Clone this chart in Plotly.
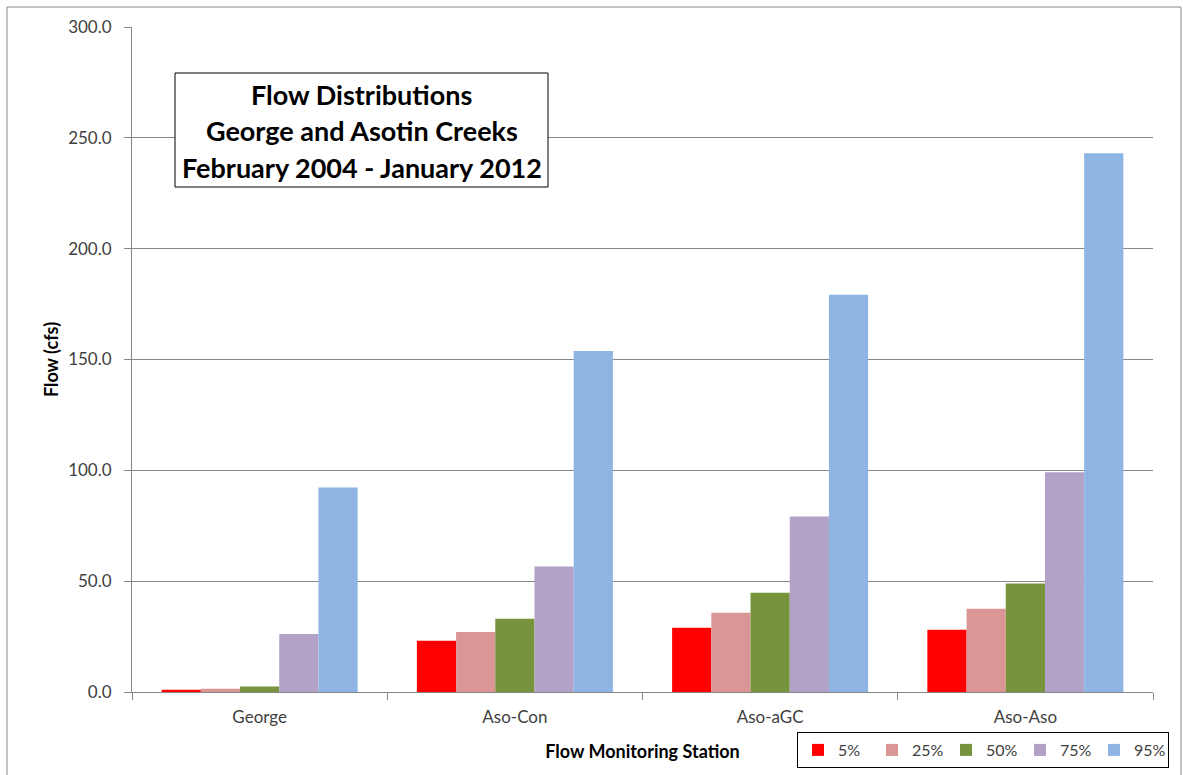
import plotly.graph_objects as go

stations = ["George", "Aso-Con", "Aso-aGC", "Aso-Aso"]
percentiles = ["5%", "25%", "50%", "75%", "95%"]
flow_5 = [1.0, 23.1, 29.0, 28.1]
flow_25 = [1.5, 27.1, 35.7, 37.6]
flow_50 = [2.5, 33.0, 44.8, 48.9]
flow_75 = [26.2, 56.6, 79.2, 99.1]
flow_95 = [92.3, 153.8, 179.2, 243.0]
y_ticks = [0, 50, 100, 150, 200, 250, 300]
title_lines = ["Flow Distributions", "George and Asotin Creeks",
               "February 2004 - January 2012"]

series = [flow_5, flow_25, flow_50, flow_75, flow_95]
colors = ["#FF0000", "#D99694", "#77933C", "#B3A2C7", "#8EB4E3"]

W, H = 1183, 775
L, R, T, B = 132, 30, 27, 83
pw, ph = W - L - R, H - T - B


def px(x):
    return (x - L) / pw


def py(y):
    return (H - B - y) / ph


fig = go.Figure()
for name, vals, col in zip(percentiles, series, colors):
    fig.add_trace(go.Bar(x=stations, y=vals, name=name, marker_color=col,
                         marker_line_width=0))

font = "Lato, 'Open Sans', sans-serif"

# title block: framed box with three centred lines
annotations = []
for i, line in enumerate(title_lines):
    annotations.append(dict(
        xref="paper", yref="paper", x=px(361.5), y=py(94 + 36.5 * i),
        xanchor="center", yanchor="middle", showarrow=False,
        text=f"<b>{line}</b>",
        font=dict(size=27, color="black", family=font)))

fig.update_layout(
    width=W, height=H,
    margin=dict(l=L, r=R, t=T, b=B, autoexpand=False),
    paper_bgcolor="white", plot_bgcolor="white",
    barmode="group", bargap=0.232, bargroupgap=0,
    font=dict(family=font, size=15, color="#404040"),
    showlegend=True,
    legend=dict(orientation="h", x=px(797), y=py(732), xanchor="left", yanchor="top",
                bordercolor="black", borderwidth=1, bgcolor="white",
                font=dict(size=16, color="#404040"),
                entrywidth=29, entrywidthmode="pixels",
                itemsizing="constant"),
    xaxis=dict(showline=True, linecolor="#868686", linewidth=1,
               ticks="outside", ticklen=7, tickcolor="#868686",
               tickson="boundaries", showgrid=False,
               ticklabelstandoff=10,
               tickfont=dict(size=17, color="#404040"),
               title=dict(text="<b>Flow Monitoring Station</b>", standoff=18,
                          font=dict(size=18, color="black"))),
    yaxis=dict(range=[0, 300], tickvals=y_ticks,
               ticktext=[f"{v:.1f}" for v in y_ticks],
               showline=True, linecolor="#868686", linewidth=1,
               ticks="outside", ticklen=7, tickcolor="#868686",
               showgrid=True, gridcolor="#868686", gridwidth=1,
               zeroline=False, ticklabelstandoff=9,
               tickfont=dict(size=17, color="#404040"),
               title=dict(text="<b>Flow (cfs)</b>", standoff=4,
                          font=dict(size=18, color="black"))),
    shapes=[
        # outer frame
        dict(type="rect", xref="paper", yref="paper",
             x0=px(7), x1=px(1181), y0=py(790), y1=py(7),
             line=dict(color="#888888", width=1), layer="below"),
        # title box
        dict(type="rect", xref="paper", yref="paper",
             x0=px(175), x1=px(548), y0=py(187), y1=py(73),
             line=dict(color="black", width=1), fillcolor="white", layer="above"),
    ],
    annotations=annotations,
)

fig.write_html("out.html")
